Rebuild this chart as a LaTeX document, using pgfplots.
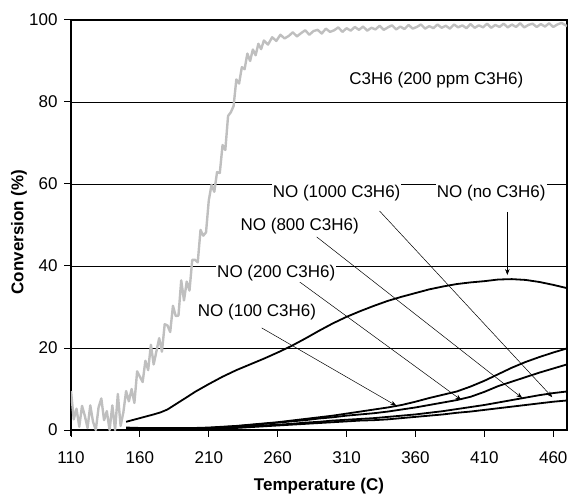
\documentclass[border=0pt]{standalone}
\usepackage{pgfplots}
\pgfplotsset{compat=1.18}
\usepackage{fontspec}
\setmainfont{Liberation Sans}
\usetikzlibrary{arrows.meta}

\begin{document}
\begin{tikzpicture}[
  lbl/.style={fill=white, inner sep=1pt, font=\fontsize{17}{20}\selectfont},
  arr/.style={-{Stealth[length=6pt,width=4.5pt]}, line width=0.5pt},
]
\begin{axis}[
  name=ax,
  scale only axis,
  width=496pt, height=410pt,
  xmin=110, xmax=470, ymin=0, ymax=100,
  xtick={110,160,...,460},
  ytick={0,20,...,100},
  xtick pos=bottom, ytick pos=left,
  tick align=outside,
  major tick length=6pt,
  major tick style={draw=black, line width=1pt},
  axis line style={black, line width=1.6pt},
  ymajorgrids=true,
  major grid style={black, line width=0.6pt},
  /pgf/number format/assume math mode=true,
  ticklabel style={font=\fontsize{17}{20}\selectfont},
  xticklabel style={yshift=-12pt},
  yticklabel style={xshift=-4pt},
  xlabel={\textbf{Temperature (C)}},
  ylabel={\textbf{Conversion (\%)}},
  xlabel style={at={(axis description cs:0.5,-0.117)}, anchor=north, inner sep=0pt, font=\fontsize{17}{20}\selectfont},
  ylabel style={at={(axis description cs:-0.105,0.483)}, anchor=center, inner sep=0pt, font=\fontsize{17}{20}\selectfont},
]
% C3H6 conversion (200 ppm C3H6), noisy grey trace
\addplot[color=black!25, line width=2.4pt, line join=round] coordinates {
(110,9.5)(112,2.6)(114,5.2)(116,0.8)(118,5.9)(120,3.5)(122,0.5)(124,6)(126,2)(128,0)
(130,5.5)(132,7.7)(134,2.4)(136,4.6)(138,0)(140,6)(142,0)(144,8.8)(146,1)(148,4.3)
(150,9.5)(152,7)(154,10)(156,6.6)(158,14.3)(160,13)(162,11.7)(164,16.9)(166,14.6)(168,20.8)
(170,16)(172,19.2)(174,22.4)(176,19.1)(178,25.8)(180,25.5)(182,23.9)(184,30.3)(186,27.8)(188,27.9)
(190,36.5)(192,31.6)(194,36.2)(196,34)(198,41.5)(200,41.5)(202,40.9)(204,48.8)(206,47.4)(208,48.2)
(210,56)(212,59.8)(214,58.1)(216,62.9)(218,62.7)(220,69.5)(222,68.3)(224,76.6)(226,77.5)(228,79)
(230,85.5)(232,84.5)(234,88.5)(236,88)(238,91.8)(240,90)(242,92.8)(244,91.4)(246,94.2)(248,92.9)
(250,95)(253,94)(256,95.8)(259,94.9)(262,96.4)(265,95.5)(268,96.1)(271,97)(274,96)(277,96.8)
(280,97.5)(283,96.4)(286,97.3)(289,97.6)(292,96.7)(295,97.9)(298,97.1)(301,97.5)(304,98.2)(307,97.1)
(310,98)(313,97.4)(316,98.3)(319,97.6)(322,98.4)(325,97.4)(328,98.1)(331,97.7)(334,98.6)(337,97.6)
(340,98.2)(343,98.7)(346,97.7)(349,98.4)(352,97.8)(355,98.8)(358,97.9)(361,98.3)(364,98.9)(367,97.9)
(370,98.5)(373,98)(376,98.9)(379,98.1)(382,98.6)(385,97.9)(388,98.9)(391,98.2)(394,98.7)(397,98)
(400,99)(403,98.1)(406,98.7)(409,98.2)(412,99.1)(415,98.1)(418,98.8)(421,98.3)(424,99.1)(427,98.2)
(430,98.9)(433,98.3)(436,99.2)(439,98.2)(442,98.8)(445,99.1)(448,98.3)(451,99)(454,98.4)(457,99.2)
(460,98.3)(463,98.9)(466,99.3)(470,98.5)
};
% NO (no C3H6)
\addplot[black, line width=1.8pt] coordinates {
(150,2)(160,2.9)(170,3.8)(175,4.3)(180,5)(187,6.5)(195,8.2)(200,9.3)(210,11.2)(220,13)
(230,14.6)(240,16)(250,17.4)(260,18.9)(270,20.5)(280,22.3)(290,24.2)(300,26)(310,27.6)(320,29)
(330,30.3)(340,31.5)(350,32.5)(360,33.4)(370,34.3)(380,35)(390,35.6)(400,36)(410,36.3)(420,36.7)
(430,36.8)(440,36.6)(450,36.1)(460,35.4)(470,34.6)
};
% NO (100 C3H6)
\addplot[black, line width=1.8pt] coordinates {
(150,0.6)(160,0.5)(170,0.5)(180,0.5)(190,0.5)(200,0.5)(210,0.6)(220,0.8)(230,1.0)(240,1.3)
(250,1.6)(260,1.9)(270,2.3)(280,2.7)(290,3.1)(300,3.5)(310,4.0)(320,4.5)(330,5.0)(340,5.5)
(350,6.1)(360,6.9)(370,7.8)(380,8.6)(390,9.4)(400,10.6)(410,12.0)(420,13.6)(430,15.2)(440,16.6)
(450,17.8)(460,18.9)(470,19.9)
};
% NO (200 C3H6)
\addplot[black, line width=1.8pt] coordinates {
(150,0.5)(160,0.5)(170,0.5)(180,0.5)(190,0.5)(200,0.5)(210,0.5)(220,0.7)(230,0.9)(240,1.2)
(250,1.5)(260,1.8)(270,2.1)(280,2.4)(290,2.8)(300,3.1)(310,3.5)(320,3.8)(330,4.1)(340,4.5)
(350,5.0)(360,5.5)(370,6.1)(380,6.7)(390,7.3)(400,8.1)(410,9.3)(420,10.7)(430,11.8)(440,12.9)
(450,14.0)(460,15.0)(470,16.0)
};
% NO (800 C3H6)
\addplot[black, line width=1.8pt] coordinates {
(150,0.4)(160,0.4)(170,0.4)(180,0.4)(190,0.4)(200,0.4)(210,0.4)(220,0.5)(230,0.7)(240,0.9)
(250,1.1)(260,1.3)(270,1.5)(280,1.8)(290,2.0)(300,2.3)(310,2.5)(320,2.7)(330,2.9)(340,3.2)
(350,3.5)(360,3.8)(370,4.2)(380,4.6)(390,5.1)(400,5.6)(410,6.1)(420,6.7)(430,7.3)(440,7.9)
(450,8.5)(460,9.0)(470,9.4)
};
% NO (1000 C3H6)
\addplot[black, line width=1.8pt] coordinates {
(150,0.3)(160,0.3)(170,0.3)(180,0.3)(190,0.3)(200,0.3)(210,0.3)(220,0.4)(230,0.5)(240,0.7)
(250,0.9)(260,1.1)(270,1.3)(280,1.5)(290,1.7)(300,1.9)(310,2.1)(320,2.3)(330,2.4)(340,2.6)
(350,2.9)(360,3.2)(370,3.5)(380,3.8)(390,4.2)(400,4.5)(410,4.9)(420,5.3)(430,5.7)(440,6.1)
(450,6.5)(460,6.9)(470,7.2)
};
% annotation arrows
\draw[arr] (axis cs:426.7,53.2) -- (axis cs:426.7,37.8);
\draw[arr] (axis cs:334,53.4) -- (axis cs:459.3,8.0);
\draw[arr] (axis cs:288.3,47.1) -- (axis cs:437.5,7.8);
\draw[arr] (axis cs:276,36.1) -- (axis cs:393.3,7.3);
\draw[arr] (axis cs:248.4,24.9) -- (axis cs:346.2,5.9);
% annotation texts
\node[lbl] at (axis cs:375.2,85.4) {C3H6 (200 ppm C3H6)};
\node[lbl] at (axis cs:302.8,57.8) {NO (1000 C3H6)};
\node[lbl] at (axis cs:415,57.8) {NO (no C3H6)};
\node[lbl] at (axis cs:276,49.8) {NO (800 C3H6)};
\node[lbl] at (axis cs:259,38.3) {NO (200 C3H6)};
\node[lbl] at (axis cs:245,28.8) {NO (100 C3H6)};
\end{axis}
% outward tick marks
\foreach \i in {0,...,7}
  \draw[line width=1pt] ([xshift=\i*68.889pt]ax.south west) -- ++(0,-7pt);
\foreach \j in {0,...,5}
  \draw[line width=1pt] ([yshift=\j*82pt]ax.south west) -- ++(-7pt,0);
\pgfresetboundingbox
\path ([xshift=-71pt,yshift=-65pt]ax.south west) rectangle ([xshift=2pt,yshift=20pt]ax.north east);
\end{tikzpicture}
\end{document}
